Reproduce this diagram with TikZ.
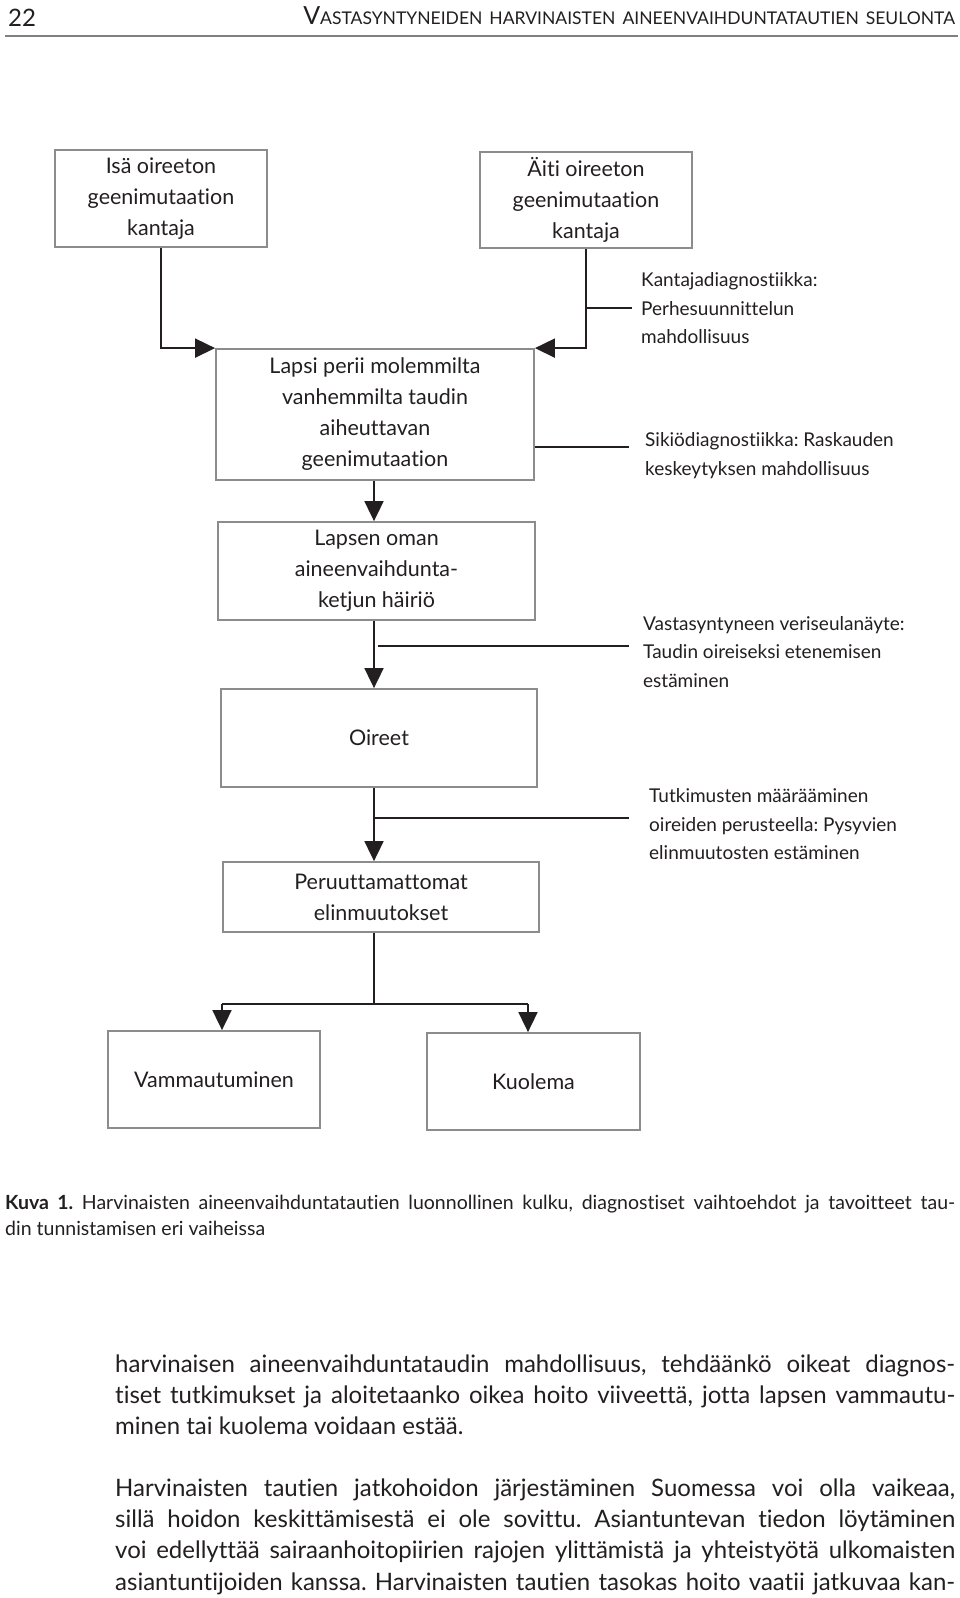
\documentclass[tikz,border=0pt]{standalone}
\usepackage{fontspec}
\defaultfontfeatures{Ligatures=NoCommon}
\setmainfont{Lato}
\newfontfamily\condfont{Lato}
\newfontfamily\boxfont{Lato}
\usetikzlibrary{arrows.meta}
\frenchspacing
\definecolor{ink}{HTML}{231F20}
\definecolor{frame}{HTML}{8C8C8C}
\definecolor{rulegray}{HTML}{808080}
\tikzset{
  box/.style={draw=frame, line width=1.8pt, align=center, inner sep=0pt, text=ink,
    font=\boxfont\fontsize{21.5}{31}\selectfont},
  side/.style={align=left, anchor=west, inner sep=0pt, text=ink,
    font=\condfont\fontsize{19}{28.5}\selectfont},
  conn/.style={draw=ink, line width=1.8pt, -{Triangle[length=20pt,width=19pt]}},
  tick/.style={draw=ink, line width=1.8pt},
  bodyline/.style={anchor=base west, inner sep=0pt, text=ink,
    font=\condfont\fontsize{24}{31}\selectfont},
  capline/.style={anchor=base west, inner sep=0pt, text=ink,
    font=\condfont\fontsize{19.5}{26}\selectfont},
}
\begin{document}
\frenchspacing
\begin{tikzpicture}[x=1pt,y=-1pt]
\useasboundingbox (0,0) rectangle (960,1598);
\fill[white] (0,0) rectangle (960,1598);
% header
\node[anchor=base west, inner sep=0pt, text=ink, font=\fontsize{24}{24}\selectfont] (pg) at (8,27) {22};
\node[anchor=base east, inner sep=0pt, text=ink] (hd) at (955,24)
  {\fontsize{25}{25}\selectfont V\fontsize{17.5}{17.5}\selectfont ASTASYNTYNEIDEN\hspace{7pt}HARVINAISTEN\hspace{7pt}AINEENVAIHDUNTATAUTIEN\hspace{7pt}SEULONTA};
\coordinate (rl) at (5,36);
\coordinate (rr) at (958,36);
\draw[rulegray, line width=1.2pt] (rl) -- (rr);

% boxes
\node[box, minimum width=212pt, minimum height=97pt] (isa) at (161,198.5) {Isä oireeton\\geenimutaation\\kantaja};
\node[box, minimum width=212pt, minimum height=96pt] (aiti) at (586,200) {Äiti oireeton\\geenimutaation\\kantaja};
\node[box, minimum width=318pt, minimum height=131pt] (lapsi) at (375,414.5) {Lapsi perii molemmilta\\vanhemmilta taudin\\aiheuttavan\\geenimutaation};
\node[box, minimum width=317pt, minimum height=98pt] (lapsen) at (376.5,571) {Lapsen oman\\aineenvaihdunta-\\ketjun häiriö};
\node[box, minimum width=316pt, minimum height=98pt] (oireet) at (379,738) {Oireet};
\node[box, minimum width=316pt, minimum height=70pt] (peru) at (381,897) {Peruuttamattomat\\elinmuutokset};
\node[box, minimum width=212pt, minimum height=97pt] (vamm) at (214,1079.5) {Vammautuminen};
\node[box, minimum width=213pt, minimum height=97pt] (kuol) at (533.5,1081.5) {Kuolema};

% side texts
\node[side] (kant) at (641,308.5) {Kantajadiagnostiikka:\\Perhesuunnittelun\\mahdollisuus};
\node[side] (siki) at (645,455.5) {Sikiödiagnostiikka: Raskauden\\keskeytyksen mahdollisuus};
\node[side] (vasta) at (643,652) {Vastasyntyneen veriseulanäyte:\\Taudin oireiseksi etenemisen\\estäminen};
\node[side] (tutk) at (649,824.5) {Tutkimusten määrääminen\\oireiden perusteella: Pysyvien\\elinmuutosten estäminen};

% axis coordinates
\coordinate (ax) at (374,0);

% connectors
\draw[conn] (isa.south) |- (lapsi.north west);
\draw[conn] (aiti.south) |- (lapsi.north east);
\coordinate (kt) at (632,308);
\draw[tick] (aiti.south |- kt) -- (kt);
\coordinate (st) at (629,447);
\draw[tick] (lapsi.east |- st) -- (st);
\draw[conn] (lapsi.south -| ax) -- (lapsen.north -| ax);
\coordinate (vt) at (629,646);
\coordinate (vs) at (378,646);
\draw[tick] (vs) -- (vt);
\draw[conn] (lapsen.south -| ax) -- (oireet.north -| ax);
\coordinate (tt) at (629,818);
\draw[tick] (oireet.south -| ax) |- (tt);
\draw[conn] (oireet.south -| ax) -- (peru.north -| ax);
\coordinate (split) at (374,1004);
\draw[tick] (peru.south -| ax) -- (split);
\coordinate (vl) at (222,1004);
\coordinate (kr) at (528,1004);
\draw[tick] (vl) -- (kr);
\draw[conn] (vl) -- (vl |- vamm.north);
\draw[conn] (kr) -- (kr |- kuol.north);

% caption
\node[capline] (cap1) at (5,1209) {\makebox[950pt][s]{\textbf{Kuva 1.} Harvinaisten aineenvaihduntatautien luonnollinen kulku, diagnostiset vaihtoehdot ja tavoitteet tau-}};
\node[capline] (cap2) at (5,1235) {din tunnistamisen eri vaiheissa};

% body
\node[bodyline] (b1) at (115,1372) {\makebox[840pt][s]{harvinaisen aineenvaihduntataudin mahdollisuus, tehdäänkö oikeat diagnos-}};
\node[bodyline] (b2) at (115,1403) {\makebox[840pt][s]{tiset tutkimukset ja aloitetaanko oikea hoito viiveettä, jotta lapsen vammautu-}};
\node[bodyline] (b3) at (115,1434) {minen tai kuolema voidaan estää.};
\node[bodyline] (b4) at (115,1496) {\makebox[840pt][s]{Harvinaisten tautien jatkohoidon järjestäminen Suomessa voi olla vaikeaa,}};
\node[bodyline] (b5) at (115,1527) {\makebox[840pt][s]{sillä hoidon keskittämisestä ei ole sovittu. Asiantuntevan tiedon löytäminen}};
\node[bodyline] (b6) at (115,1558) {\makebox[840pt][s]{voi edellyttää sairaanhoitopiirien rajojen ylittämistä ja yhteistyötä ulkomaisten}};
\node[bodyline] (b7) at (115,1590) {\makebox[840pt][s]{asiantuntijoiden kanssa. Harvinaisten tautien tasokas hoito vaatii jatkuvaa kan-}};
\end{tikzpicture}
\end{document}
